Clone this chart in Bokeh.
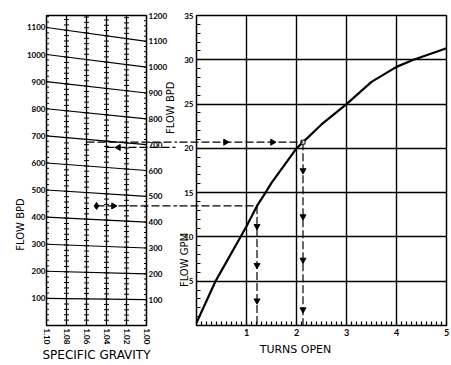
import math
from bokeh.plotting import figure
from bokeh.models import (Range1d, LinearAxis, FixedTicker, SingleIntervalTicker,
                          CustomJSTickFormatter)
from bokeh.core.properties import value
from bokeh.layouts import row
from bokeh.embed import file_html
from bokeh.resources import INLINE

# ---------------- data ----------------
sg_values = [1.10, 1.08, 1.06, 1.04, 1.02, 1.00]
bpd_lines = [100, 200, 300, 400, 500, 600, 700, 800, 900, 1000, 1100]
bpd_left_ticks = [100, 200, 300, 400, 500, 600, 700, 800, 900, 1000, 1100]
bpd_right_ticks = [100, 200, 300, 400, 500, 600, 700, 800, 900, 1000, 1100, 1200]
sg_high = 1.10
sg_low = 1.00
bpd_max = 1200
GPM_PER_BPD = 42.0 / 1440.0

turns_open = [0.0, 0.38, 0.5, 0.88, 1.0, 1.21, 1.38, 1.5, 2.0, 2.5, 3.0, 3.5, 4.0, 4.34, 5.0]
flow_gpm = [0.3, 5.0, 6.2, 10.0, 11.2, 13.5, 15.0, 16.1, 20.0, 22.7, 25.0, 27.5, 29.2, 30.0, 31.3]
gpm_max = 35
turns_max = 5

# worked example paths
ex_a_sg, ex_a_gpm, ex_a_turns = 1.06, 20.7, 2.13
ex_b_sg, ex_b_gpm = 1.04, 20.1
ex_c_sg, ex_c_gpm, ex_c_turns = 1.05, 13.5, 1.21
ex_e_arrows = [17.5, 12.3, 7.4, 1.8]
ex_d_arrows = [11.2, 6.8, 2.8]

FONT = "Lato"
TFONT = "DejaVu Sans"
DASH = "8 3"


def style_axis(ax, size="8px"):
    ax.major_tick_out = 0
    ax.major_tick_in = 0
    ax.minor_tick_out = 0
    ax.minor_tick_in = 0
    ax.major_label_text_font = FONT
    ax.major_label_text_font_style = "bold"
    ax.major_label_text_font_size = size
    ax.major_label_text_color = "black"
    ax.axis_label_text_color = "black"


# ---------------- nomograph (left) ----------------
p1 = figure(width=177, height=365, x_range=Range1d(sg_high, sg_low),
            y_range=Range1d(0, bpd_max), y_axis_location="right",
            output_backend="svg", toolbar_location=None,
            min_border_left=46, min_border_right=31,
            min_border_top=15, min_border_bottom=37)
p1.outline_line_color = "black"
p1.outline_line_width = 1.5
p1.ygrid.visible = False
p1.xgrid.ticker = FixedTicker(ticks=sg_values)
p1.xgrid.grid_line_color = "black"
p1.xgrid.grid_line_width = 1.3

scale = math.sqrt(sg_high / sg_low)
p1.extra_y_ranges = {"left": Range1d(0, bpd_max / scale)}

xa = p1.xaxis[0]
style_axis(xa)
xa.ticker = FixedTicker(ticks=sg_values)
xa.formatter = CustomJSTickFormatter(code="return tick.toFixed(2)")
xa.major_label_orientation = "vertical"
xa.axis_label = "SPECIFIC GRAVITY"
xa.axis_label_text_font = TFONT
xa.axis_label_text_font_style = "normal"
xa.axis_label_text_font_size = "12px"
xa.axis_label_standoff = 1
xa.major_label_standoff = 3
xa.axis_line_color = None

ra = p1.yaxis[0]
style_axis(ra)
ra.ticker = FixedTicker(ticks=bpd_right_ticks)
ra.axis_line_color = None
ra.major_label_standoff = 2

la = LinearAxis(y_range_name="left", ticker=FixedTicker(ticks=bpd_left_ticks))
style_axis(la)
la.axis_line_color = None
la.major_label_standoff = 1
p1.add_layout(la, "left")

# slanted BPD lines: value V at SG 1.10 on left scale, at SG 1.00 on right scale
p1.segment(x0=[sg_high] * len(bpd_lines), y0=[v * scale for v in bpd_lines],
           x1=[sg_low] * len(bpd_lines), y1=bpd_lines,
           line_color="black", line_width=1.1)

# cross-hatch ticks on SG lines
tx, ty = [], []
for s in sg_values:
    f = 1 + (scale - 1) * (s - sg_low) / (sg_high - sg_low)
    for v in range(0, bpd_max + 1, 20):
        tx.append(s)
        ty.append(v * f)
p1.scatter(tx, ty, marker="dash", size=5, line_color="black", line_width=1)


def g2b(g):
    return g / GPM_PER_BPD


for sg0, gg, sg1 in ((ex_a_sg, ex_a_gpm, 0.90), (ex_b_sg, ex_b_gpm, 0.971),
                     (ex_c_sg, ex_c_gpm, 0.90)):
    r = p1.line([sg0, sg1], [g2b(gg)] * 2, line_color="black",
                line_width=1.2, line_dash=DASH)
    r.level = "overlay"
p1.scatter([ex_c_sg], [g2b(ex_c_gpm)], marker="diamond", size=7, color="black",
           level="overlay")
p1.scatter([1.033, 0.985], [g2b(ex_c_gpm)] * 2, marker="triangle",
           angle=-math.pi / 2, size=6, color="black", level="overlay")
p1.scatter([1.028], [g2b(ex_b_gpm)], marker="triangle",
           angle=math.pi / 2, size=6, color="black", level="overlay")
p1.scatter([0.971], [g2b(ex_b_gpm)], marker="circle", size=4,
           fill_color="white", line_color="black", level="overlay")

p1.text(x=[1.126, 0.976], y=[391, 843], text=["FLOW BPD", "FLOW BPD"],
        angle=math.pi / 2, text_align="center", text_baseline="middle",
        text_font=value(TFONT), text_font_size="10px", text_color="black",
        level="overlay")

# ---------------- flow vs turns (right) ----------------
p2 = figure(width=274, height=365, x_range=Range1d(0, turns_max),
            y_range=Range1d(0, gpm_max),
            output_backend="svg", toolbar_location=None,
            min_border_left=19, min_border_right=5,
            min_border_top=15, min_border_bottom=37)
p2.outline_line_color = "black"
p2.outline_line_width = 1.5

bx = p2.xaxis[0]
style_axis(bx, "9px")
bx.ticker = SingleIntervalTicker(interval=1, num_minor_ticks=10)
bx.major_label_overrides = {0: ""}
bx.minor_tick_in = 4
bx.minor_tick_line_width = 1.2
bx.minor_tick_line_color = "black"
bx.axis_line_color = "black"
bx.major_label_standoff = 3

ly = p2.yaxis[0]
style_axis(ly)
ly.ticker = SingleIntervalTicker(interval=5, num_minor_ticks=5)
ly.major_label_overrides = {0: ""}
ly.minor_tick_in = 4
ly.minor_tick_line_width = 1.2
ly.minor_tick_line_color = "black"
ly.axis_line_color = "black"
ly.major_label_standoff = 3

p2.xgrid.ticker = SingleIntervalTicker(interval=1)
p2.ygrid.ticker = SingleIntervalTicker(interval=5)
for g in (p2.xgrid[0], p2.ygrid[0]):
    g.grid_line_color = "black"
    g.grid_line_width = 1.4

p2.line(turns_open, flow_gpm, line_color="black", line_width=2.2)

r = p2.line([-1, ex_a_turns], [ex_a_gpm] * 2, line_color="black",
            line_width=1.2, line_dash=DASH)
r.level = "overlay"
p2.line([ex_a_turns, ex_a_turns], [ex_a_gpm, 0], line_color="black",
        line_width=1.2, line_dash=DASH)
r = p2.line([-1, ex_c_turns], [ex_c_gpm] * 2, line_color="black",
            line_width=1.2, line_dash=DASH)
r.level = "overlay"
p2.line([ex_c_turns, ex_c_turns], [ex_c_gpm, 0], line_color="black",
        line_width=1.2, line_dash=DASH)
p2.scatter([-0.38, 0.58, 1.52], [ex_a_gpm] * 3, marker="triangle",
           angle=-math.pi / 2, size=6, color="black", level="overlay")
p2.scatter([ex_a_turns] * len(ex_e_arrows), ex_e_arrows, marker="inverted_triangle",
           size=6, color="black")
p2.scatter([ex_c_turns] * len(ex_d_arrows), ex_d_arrows, marker="inverted_triangle",
           size=6, color="black")
p2.scatter([ex_a_turns], [ex_a_gpm], marker="square", size=4,
           fill_color="white", line_color="black")

p2.text(x=[-0.25], y=[7.4], text=["FLOW GPM"], angle=math.pi / 2,
        text_align="center", text_baseline="middle",
        text_font=value(TFONT), text_font_size="10px", text_color="black",
        level="overlay")
p2.text(x=[1.98], y=[-2.7], text=["TURNS OPEN"], angle=0,
        text_align="center", text_baseline="middle",
        text_font=value(TFONT), text_font_size="11px", text_color="black",
        level="overlay")

layout = row(p1, p2, spacing=0)
open("out.html", "w").write(file_html(layout, INLINE))
